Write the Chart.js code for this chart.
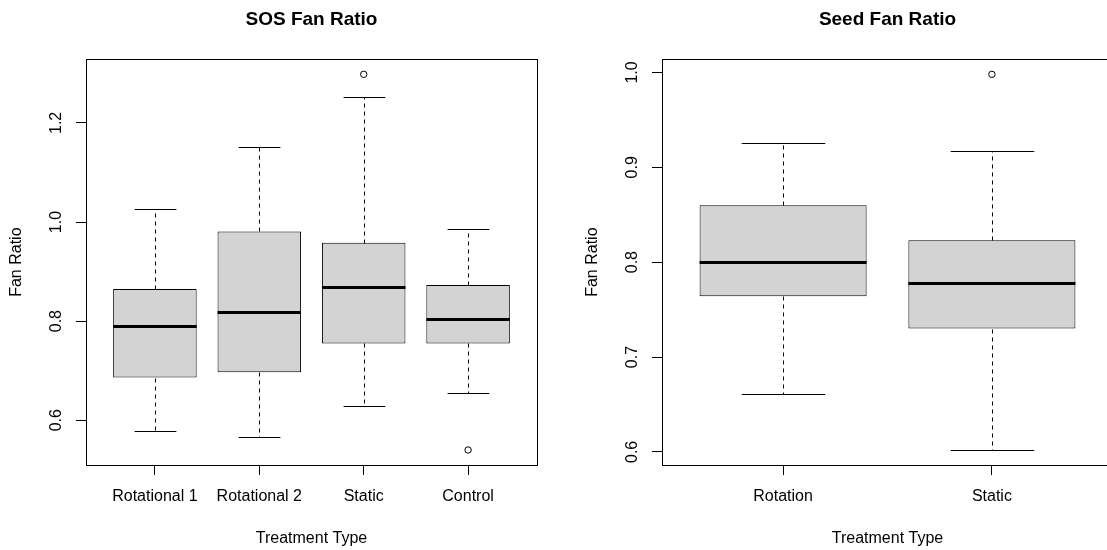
<!DOCTYPE html>
<html lang="en">
<head>
<meta charset="UTF-8">
<title>Fan Ratio Boxplots</title>
<script src="https://cdn.jsdelivr.net/npm/chart.js"></script>
<style>
  body { margin: 0; background: #fff; }
  #wrap { position: relative; width: 1107px; height: 550px; overflow: hidden; }
  canvas { position: absolute; top: 0; }
</style>
</head>
<body>
<div id="wrap">
  <canvas id="sosChart" width="576" height="550" style="left:0"></canvas>
  <canvas id="seedChart" width="576" height="550" style="left:576px"></canvas>
</div>
<script>
// SOS fan ratio - five number summaries
const sosGroups = ['Rotational 1', 'Rotational 2', 'Static', 'Control'];
const sosMin = [0.579, 0.566, 0.628, 0.655];
const sosQ1  = [0.686, 0.697, 0.755, 0.755];
const sosMed = [0.790, 0.818, 0.869, 0.805];
const sosQ3  = [0.865, 0.981, 0.958, 0.873];
const sosMax = [1.027, 1.151, 1.253, 0.986];
const sosOutGroup = ['Static', 'Control'];
const sosOutValue = [1.298, 0.540];
const sosTicks = [0.6, 0.8, 1.0, 1.2];

// Seed fan ratio
const seedGroups = ['Rotation', 'Static'];
const seedMin = [0.661, 0.602];
const seedQ1  = [0.764, 0.730];
const seedMed = [0.800, 0.778];
const seedQ3  = [0.860, 0.823];
const seedMax = [0.926, 0.917];
const seedOutGroup = ['Static'];
const seedOutValue = [0.998];
const seedTicks = [0.6, 0.7, 0.8, 0.9, 1.0];

Chart.defaults.font.family = '"Liberation Sans", Arial, sans-serif';
Chart.defaults.color = '#000';

// whiskers, caps, medians and the plot frame, drawn from the scales
function boxPlugin(stats) {
    return {
        id: 'boxWhiskers',
        afterDatasetsDraw(chart) {
            const ctx = chart.ctx;
            const y = chart.scales.y;
            const bars = chart.getDatasetMeta(0).data;
            ctx.save();
            ctx.strokeStyle = '#000';
            bars.forEach((bar, i) => {
                const x = Math.round(bar.x) + 0.5;
                const half = bar.width / 2;
                const py = v => Math.round(y.getPixelForValue(v)) + 0.5;
                const yMin = py(stats.min[i]);
                const yQ1 = py(stats.q1[i]);
                const yMed = py(stats.med[i]);
                const yQ3 = py(stats.q3[i]);
                const yMax = py(stats.max[i]);

                ctx.lineWidth = 1;
                ctx.setLineDash([4, 4]);
                ctx.beginPath();
                ctx.moveTo(x, yQ3); ctx.lineTo(x, yMax);
                ctx.moveTo(x, yQ1); ctx.lineTo(x, yMin);
                ctx.stroke();

                ctx.setLineDash([]);
                ctx.beginPath();
                ctx.moveTo(x - half / 2, yMax); ctx.lineTo(x + half / 2, yMax);
                ctx.moveTo(x - half / 2, yMin); ctx.lineTo(x + half / 2, yMin);
                ctx.stroke();

                ctx.lineWidth = 3;
                ctx.beginPath();
                ctx.moveTo(bar.x - half, yMed); ctx.lineTo(bar.x + half, yMed);
                ctx.stroke();
            });
            const a = chart.chartArea;
            ctx.lineWidth = 1;
            ctx.strokeRect(Math.round(a.left) + 0.5, Math.round(a.top) + 0.5,
                Math.round(a.right - a.left), Math.round(a.bottom - a.top));
            ctx.restore();
        }
    };
}

function makeBoxChart(id, title, groups, mins, q1s, meds, q3s, maxs, outGroup, outValue, yTicks) {
    const n = groups.length;
    // R style 4% range padding
    const lo = Math.min(...mins, ...outValue);
    const hi = Math.max(...maxs, ...outValue);
    const pad = (hi - lo) * 0.04;

    return new Chart(document.getElementById(id), {
        type: 'bar',
        data: {
            datasets: [{
                data: groups.map((g, i) => ({ x: i + 1, y: [q1s[i], q3s[i]] })),
                backgroundColor: '#d3d3d3',
                borderColor: '#000',
                borderWidth: 1,
                borderSkipped: false,
                barPercentage: 0.8,
                categoryPercentage: 1.0
            }, {
                type: 'scatter',
                data: outGroup.map((g, k) => ({ x: groups.indexOf(g) + 1, y: outValue[k] })),
                pointRadius: 3.2,
                pointBackgroundColor: '#fff',
                pointBorderColor: '#000',
                pointBorderWidth: 1
            }]
        },
        options: {
            responsive: false,
            animation: false,
            events: [],
            layout: { padding: { left: 0, right: 39, top: 0, bottom: 0 } },
            plugins: {
                legend: { display: false },
                tooltip: { enabled: false },
                title: {
                    display: true,
                    text: title,
                    fullSize: false,
                    font: { size: 19, weight: 'bold' },
                    padding: { top: 8, bottom: 28.5 }
                }
            },
            scales: {
                x: {
                    type: 'linear',
                    offset: false,
                    min: 0.5 - 0.04 * n,
                    max: n + 0.5 + 0.04 * n,
                    afterBuildTicks: s => { s.ticks = groups.map((g, i) => ({ value: i + 1 })); },
                    afterFit: s => { s.height = 85; },
                    ticks: {
                        callback: v => groups[Math.round(v) - 1],
                        autoSkip: false,
                        minRotation: 0,
                        maxRotation: 0,
                        padding: 12,
                        font: { size: 16 }
                    },
                    grid: { drawOnChartArea: false, offset: false, tickLength: 10, color: '#000' },
                    border: { display: false },
                    title: { display: true, text: 'Treatment Type', font: { size: 16 }, padding: { top: 0, bottom: 2 } }
                },
                y: {
                    type: 'linear',
                    beginAtZero: false,
                    min: lo - pad,
                    max: hi + pad,
                    afterBuildTicks: s => { s.ticks = yTicks.map(v => ({ value: v })); },
                    afterFit: s => { s.width = 86; },
                    ticks: {
                        callback: v => v.toFixed(1),
                        minRotation: 90,
                        maxRotation: 90,
                        crossAlign: 'center',
                        padding: 8,
                        font: { size: 16 }
                    },
                    grid: { drawOnChartArea: false, tickLength: 10, color: '#000' },
                    border: { display: false },
                    title: { display: true, text: 'Fan Ratio', font: { size: 16 }, padding: { top: 7, bottom: 0 } }
                }
            }
        },
        plugins: [boxPlugin({ min: mins, q1: q1s, med: meds, q3: q3s, max: maxs })]
    });
}

makeBoxChart('sosChart', 'SOS Fan Ratio', sosGroups, sosMin, sosQ1, sosMed, sosQ3, sosMax,
    sosOutGroup, sosOutValue, sosTicks);
makeBoxChart('seedChart', 'Seed Fan Ratio', seedGroups, seedMin, seedQ1, seedMed, seedQ3, seedMax,
    seedOutGroup, seedOutValue, seedTicks);
</script>
</body>
</html>
